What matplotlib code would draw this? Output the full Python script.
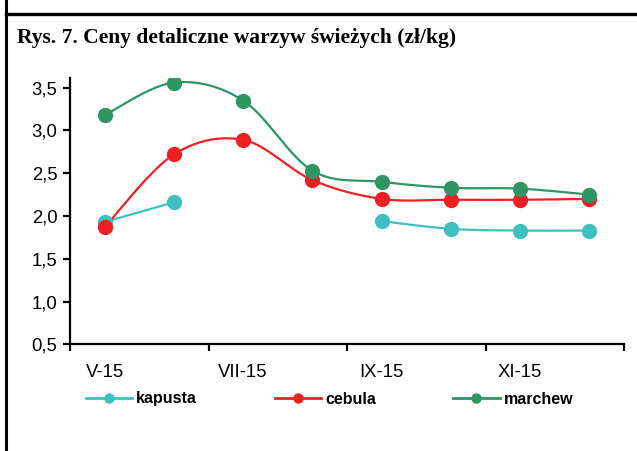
import numpy as np
import matplotlib
matplotlib.use("Agg")
import matplotlib.pyplot as plt
from matplotlib.lines import Line2D

# Data: monthly retail prices (zl/kg), V-15 .. XII-15
months = ["V-15", "VI-15", "VII-15", "VIII-15", "IX-15", "X-15", "XI-15", "XII-15"]
kapusta = [1.93, 2.16, np.nan, np.nan, 1.94, 1.85, 1.83, 1.83]
cebula = [1.87, 2.72, 2.89, 2.42, 2.20, 2.19, 2.19, 2.20]
marchew = [3.18, 3.56, 3.35, 2.53, 2.40, 2.33, 2.32, 2.25]
series_names = ["kapusta", "cebula", "marchew"]
colors = ["#3fc0c0", "#ee2024", "#2e9563"]


def smooth_segment(xs, ys, n=40):
    """Catmull-Rom style bezier through the points (like Excel smoothed lines)."""
    xs = np.asarray(xs, float)
    ys = np.asarray(ys, float)
    if len(xs) < 2:
        return xs, ys
    P = np.c_[xs, ys]
    out = [P[0:1]]
    t = np.linspace(0, 1, n)[1:, None]
    for i in range(len(P) - 1):
        p0 = P[i - 1] if i > 0 else P[i]
        p1, p2 = P[i], P[i + 1]
        p3 = P[i + 2] if i + 2 < len(P) else P[i + 1]
        c1 = p1 + (p2 - p0) / 6.0
        c2 = p2 - (p3 - p1) / 6.0
        seg = ((1 - t) ** 3) * p1 + 3 * ((1 - t) ** 2) * t * c1 + 3 * (1 - t) * t ** 2 * c2 + t ** 3 * p2
        out.append(seg)
    P2 = np.vstack(out)
    return P2[:, 0], P2[:, 1]


def plot_series(ax, vals, color):
    x = np.arange(len(vals)) + 0.5
    v = np.asarray(vals, float)
    ok = ~np.isnan(v)
    # split into contiguous runs
    runs, cur = [], []
    for i in range(len(v)):
        if ok[i]:
            cur.append(i)
        elif cur:
            runs.append(cur)
            cur = []
    if cur:
        runs.append(cur)
    for r in runs:
        sx, sy = smooth_segment(x[r], v[r])
        ax.plot(sx, sy, color=color, lw=1.6, solid_capstyle="round", zorder=2)
    ax.plot(x[ok], v[ok], "o", color=color, ms=11, mec="none", zorder=3)


fig = plt.figure(figsize=(6.37, 4.51), dpi=100)
W, H = 637, 451

# frame lines of the figure box
fig.add_artist(Line2D([6 / W, 6 / W], [0, 1], color="black", lw=2.2))
fig.add_artist(Line2D([6 / W, 1], [1 - 14 / H, 1 - 14 / H], color="black", lw=2.4))

fig.text(17 / W, 1 - 38 / H, "Rys. 7. Ceny detaliczne warzyw świeżych (zł/kg)",
         family="Liberation Serif", weight="bold", fontsize=15.5, va="center", ha="left")

ax = fig.add_axes([70 / W, 1 - 344.3 / H, (624 - 70) / W, (344.3 - 78.3) / H])
for vals, c in zip([kapusta, cebula, marchew], colors):
    plot_series(ax, vals, c)

ax.set_xlim(0, len(months))
ax.set_ylim(0.5, 3.61)
ax.set_yticks(np.arange(0.5, 3.51, 0.5))
ax.set_yticklabels([f"{v:.1f}".replace(".", ",") for v in np.arange(0.5, 3.51, 0.5)])
ax.set_xticks(np.arange(0, len(months) + 1, 2))
ax.set_xticklabels([])
ax.set_xticks(np.arange(0, len(months), 2) + 0.5, minor=True)
ax.set_xticklabels(months[::2], minor=True)

for s in ["top", "right"]:
    ax.spines[s].set_visible(False)
for s in ["left", "bottom"]:
    ax.spines[s].set_linewidth(1.6)
ax.tick_params(axis="y", which="major", direction="out", length=5, width=1.6,
               labelsize=13.3, pad=4, labelfontfamily="Liberation Sans")
ax.tick_params(axis="x", which="major", direction="out", length=5, width=1.6)
ax.tick_params(axis="x", which="minor", length=0, pad=14, labelsize=13.3,
               labelfontfamily="Liberation Sans")

handles = [Line2D([], [], color=c, lw=2.0, marker="o", ms=7.5, mec="none") for c in colors]
fig.legend(handles, series_names, loc="center left", bbox_to_anchor=(86 / W, 1 - 399 / H),
           ncol=3, frameon=False, borderpad=0, borderaxespad=0,
           handlelength=2.9, handletextpad=0.25, columnspacing=4.85,
           prop={"family": "Liberation Sans", "weight": "bold", "size": 11.5})

fig.savefig("out.png", dpi=100)
